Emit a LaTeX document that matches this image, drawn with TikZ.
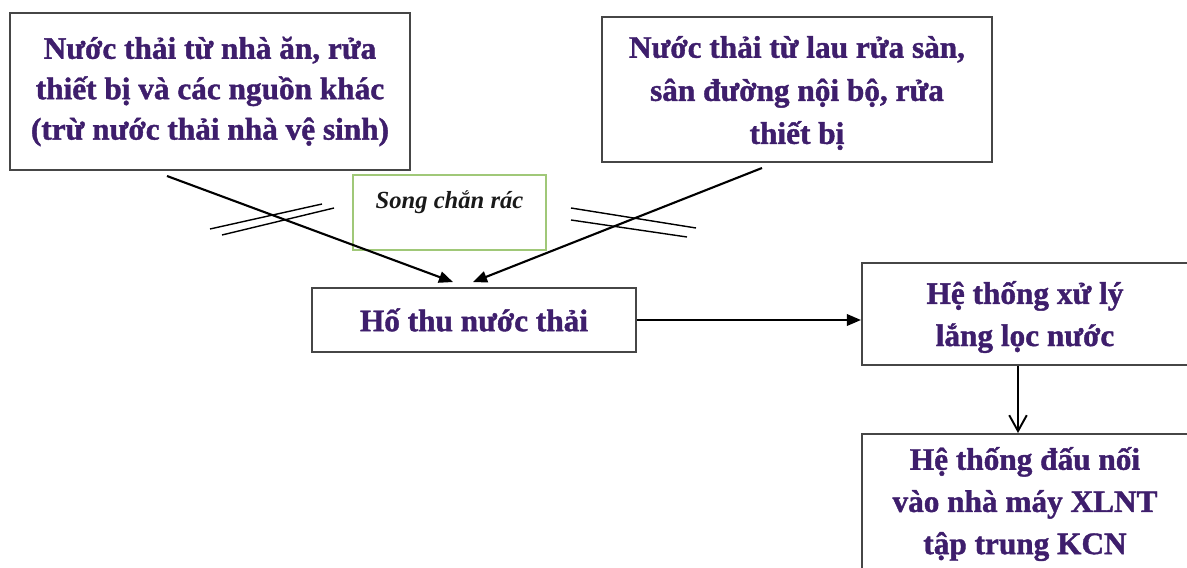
\documentclass[tikz,border=0pt]{standalone}
\usepackage{fontspec}
\setmainfont{Liberation Serif}
\newfontfamily\stagefont{Liberation Serif Bold}[FakeBold=1.3]
\usetikzlibrary{arrows.meta,calc}
\definecolor{boxtext}{RGB}{62,30,108}
\definecolor{boxline}{RGB}{70,70,70}
\definecolor{sievegreen}{RGB}{160,200,120}

\begin{document}
\begin{tikzpicture}[x=0.02cm,y=-0.02cm,
		stage/.style={draw=boxline, line width=1.1pt, fill=white, align=center, inner sep=0pt,
			text=boxtext, font=\stagefont\fontsize{17.8}{24}\selectfont},
		stagetext/.style={align=center, inner sep=0pt, text=boxtext, font=\stagefont\fontsize{17.8}{24}\selectfont},
		flow/.style={line width=1.2pt, -{Triangle[length=8pt,width=6.5pt]}},
		drop/.style={line width=1.1pt, -{Straight Barb[length=9pt,width=10pt]}},
		grate/.style={line width=0.8pt}]
		\useasboundingbox (0,0) rectangle (1187,568);
		
		% Sources
		\node[stage, minimum width=8cm, minimum height=3.14cm, font=\stagefont\fontsize{17.8}{23}\selectfont] (kitchen) at (210,91.5)
		{Nước thải từ nhà ăn, rửa\\thiết bị và các nguồn khác\\(trừ nước thải nhà vệ sinh)};
		\node[stage, minimum width=7.8cm, minimum height=2.9cm] (floor) at (797,89.5) {};
		\node[stagetext, font=\stagefont\fontsize{17.8}{24.5}\selectfont] (floortext) at (797,93)
		{Nước thải từ lau rửa sàn,\\sân đường nội bộ, rửa\\thiết bị};
		
		% Screen
		\node[draw=sievegreen, line width=0.9pt, minimum width=3.86cm, minimum height=1.5cm] (sieve) at (449.5,212.5) {};
		\node[font=\bfseries\itshape\fontsize{14}{16}\selectfont, text=black!90] (sievelabel) at (449.5,202) {Song chắn rác};
		
		% Collection and treatment (boxes run past the right edge)
		\node[stage, minimum width=6.48cm, minimum height=1.28cm] (pit) at (474,320) {Hố thu nước thải};
		\node[stage, anchor=west, minimum width=9cm, minimum height=2.04cm] (settle) at (861,314) {};
		\node[stagetext] (settletext) at (1025,317) {Hệ thống xử lý\\lắng lọc nước};
		\node[stage, anchor=north west, minimum width=9cm, minimum height=3.5cm] (outlet) at (861,433) {};
		\node[stagetext] (outlettext) at (1025,504) {Hệ thống đấu nối\\vào nhà máy XLNT\\tập trung KCN};
		
		% Grate marks
		\draw[grate] (210,229) -- (322,204); \draw[grate] (222,235) -- (334,208);
		\draw[grate] (571,208) -- (696,228); \draw[grate] (571,220) -- (687,237);
		
		% Connectors
		\coordinate (kitchenout) at (167,176);
		\coordinate (floorout) at (762,168);
		\draw[flow] (kitchenout) -- ($(pit.north)+(-21,-5)$);
		\draw[flow] (floorout) -- ($(pit.north)+(-1,-5)$);
		\draw[flow] (pit.east) -- (pit.east -| settle.west);
		\draw[drop] ($(settle.south west)+(157,0)$) -- ($(outlet.north west)+(157,0)$);
	\end{tikzpicture}
\end{document}
